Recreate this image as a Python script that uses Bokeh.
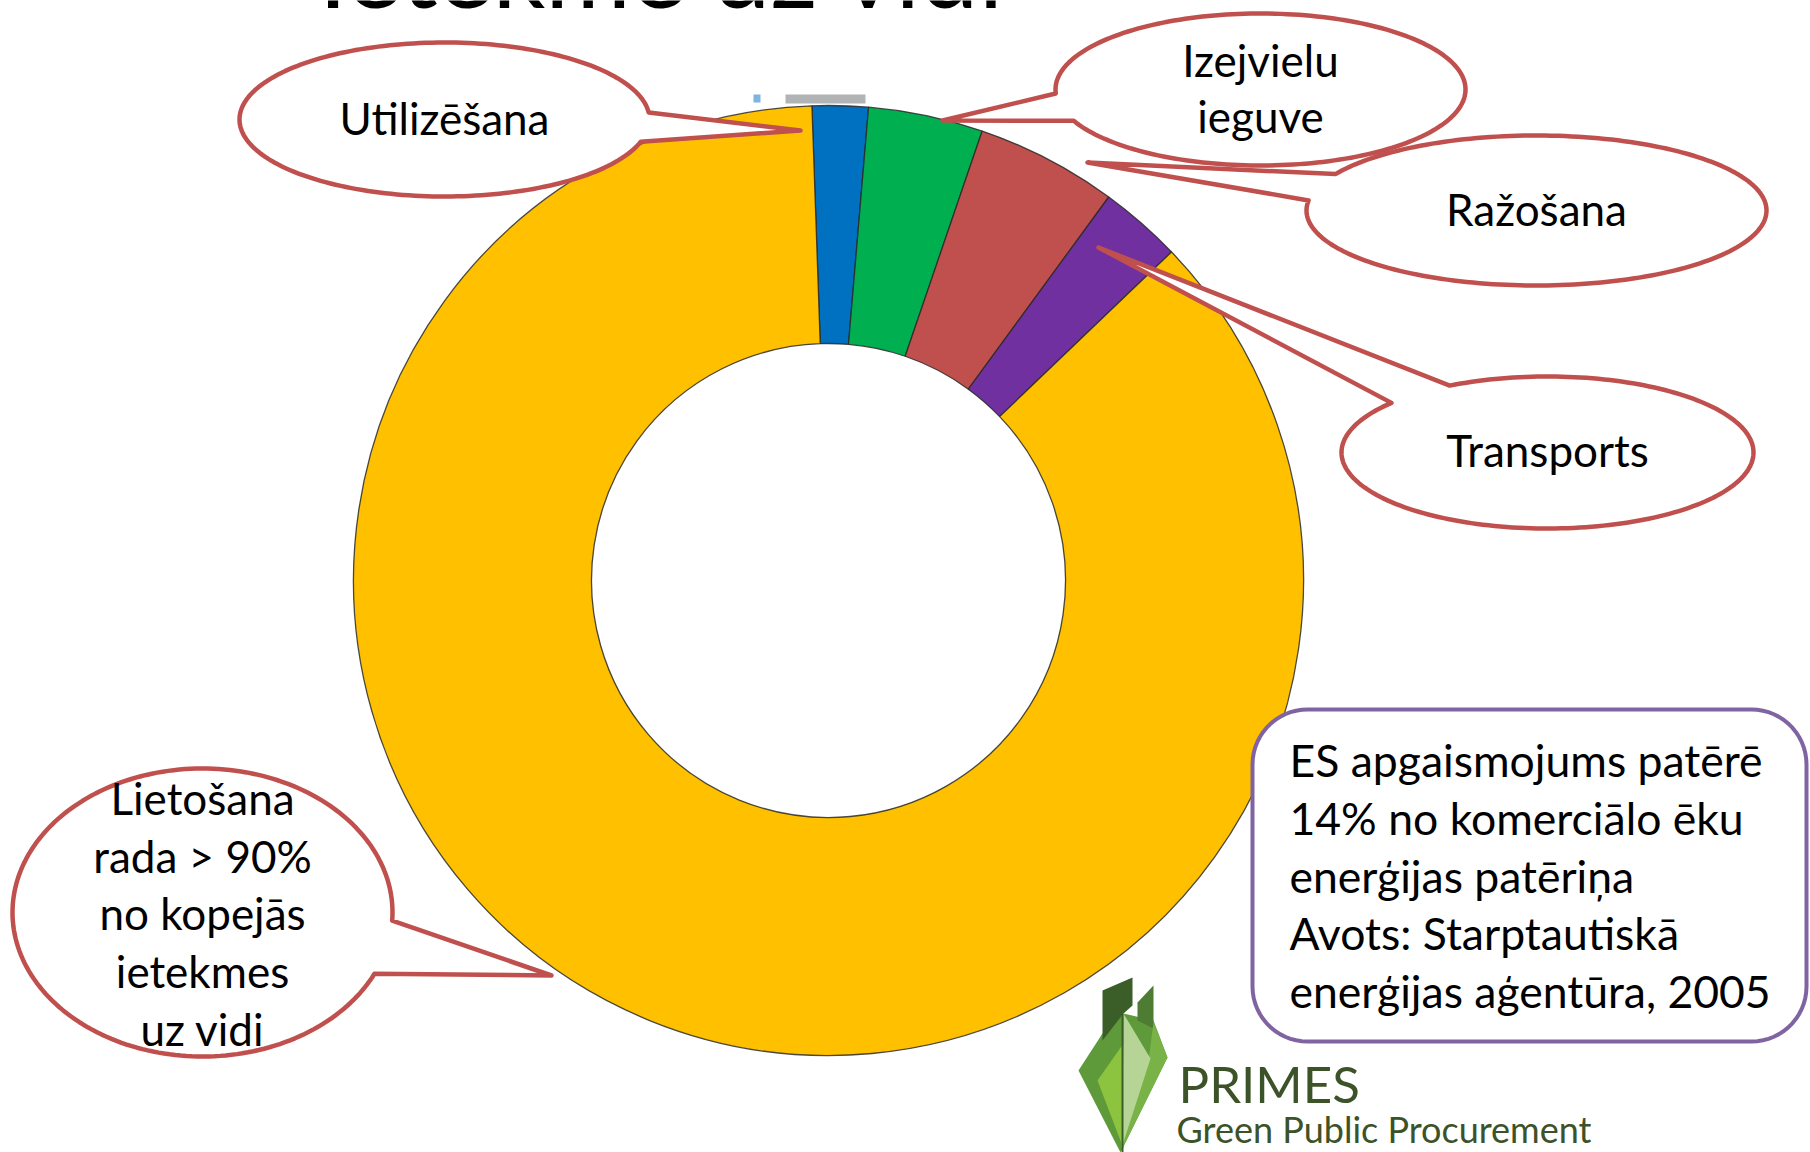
import numpy as np
from bokeh.plotting import figure
from bokeh.models import Range1d
from bokeh.embed import file_html
from bokeh.resources import INLINE
from bokeh.core.properties import value

# ---------------- data ----------------
categories = ["Utilizēšana", "Izejvielu ieguve", "Ražošana", "Transports", "Lietošana"]
shares = [1.9, 3.9, 4.8, 2.8, 86.6]
colors = ["#0070C0", "#00B050", "#C0504D", "#7030A0", "#FFC000"]

title_text = "Ietekme uz vidi"
lieto_lines = ["Lietošana", "rada > 90%", "no kopejās", "ietekmes", "uz vidi"]
izej_lines = ["Izejvielu", "ieguve"]
note_lines = ["ES apgaismojums patērē", "14% no komerciālo ēku",
              "enerģijas patēriņa", "Avots: Starptautiskā",
              "enerģijas aģentūra, 2005"]
logo_title = "PRIMES"
logo_sub = "Green Public Procurement"

# ---------------- canvas ----------------
PAGE_H = 1152
W, H = 1810, 1152


def Y(py):
    return PAGE_H - np.asarray(py, dtype=float)


p = figure(width=W, height=H, x_range=Range1d(0, W), y_range=Range1d(PAGE_H - H, PAGE_H),
           output_backend="svg", toolbar_location=None, min_border=0,
           x_axis_location=None, y_axis_location=None)
p.grid.visible = False
p.outline_line_color = None
p.background_fill_color = "white"

FONT = value("Lato")
RED = "#C0504D"
K = 0.40  # baseline correction factor (fraction of font size)

# ---------------- donut ----------------
cx_d, cy_d = 828, 580
offset = 2.0
cum = np.cumsum([0] + shares)
start = np.radians(90 + offset - cum[:-1] * 3.6)
end = np.radians(90 + offset - cum[1:] * 3.6)
p.annular_wedge(x=cx_d, y=float(Y(cy_d)), inner_radius=237, outer_radius=475,
                start_angle=list(start), end_angle=list(end), direction="clock",
                fill_color=colors, line_color="#2a2a2a", line_alpha=0.85, line_width=1.3)

# small scan artefacts above the top of the ring
p.quad(left=[785], right=[865], bottom=list(Y([103])), top=list(Y([94])),
       fill_color="#a3a6a8", fill_alpha=0.85, line_color=None)
p.quad(left=[753], right=[760], bottom=list(Y([102])), top=list(Y([94])),
       fill_color="#7fb3e0", line_color=None)


# ---------------- callouts ----------------
def callout(cx, cy, rx, ry, b1, b2, tip, n=200):
    t1 = np.arctan2((b1[1] - cy) / ry, (b1[0] - cx) / rx)
    t2 = np.arctan2((b2[1] - cy) / ry, (b2[0] - cx) / rx)
    d = (t2 - t1) % (2 * np.pi)
    if d < np.pi:
        ts = t1 - np.linspace(0, 2 * np.pi - d, n)
    else:
        ts = t1 + np.linspace(0, d, n)
    xs = list(cx + rx * np.cos(ts)) + [tip[0]]
    ys = list(cy + ry * np.sin(ts)) + [tip[1]]
    p.patch(xs, list(Y(ys)), fill_color="white", line_color=RED, line_width=4.5,
            line_join="round")


callout(444, 119, 205, 77, (646, 112), (638, 141), (800, 130))
callout(1260, 89, 205, 76, (1055, 93), (1075, 120), (942, 120))
callout(1536, 210, 230, 75, (1337, 174), (1310, 200), (1087, 162))
callout(1547, 452, 206, 76, (1452, 387), (1393, 403), (1098, 247))
callout(202, 912, 190, 144, (390, 920), (373, 973), (551, 975))


# ---------------- note box ----------------
def rounded_rect(x0, y0, x1, y1, r, n=16):
    xs, ys = [], []
    corners = [(x1 - r, y0 + r, -90, 0), (x1 - r, y1 - r, 0, 90),
               (x0 + r, y1 - r, 90, 180), (x0 + r, y0 + r, 180, 270)]
    for ccx, ccy, a0, a1 in corners:
        for a in np.radians(np.linspace(a0, a1, n)):
            xs.append(ccx + r * np.cos(a))
            ys.append(ccy + r * np.sin(a))
    return xs, ys


bx, by = rounded_rect(1252, 709, 1806, 1041, 55)
p.patch(bx, list(Y(by)), fill_color="white", line_color="#8064A2", line_width=4)


# ---------------- texts ----------------
def put_text(xs, baselines, texts, size, align="center", color="black"):
    ys = [b - K * size for b in baselines]
    p.text(x=xs, y=list(Y(ys)), text=texts, text_font=FONT, text_font_size=f"{size}px",
           text_align=align, text_baseline="alphabetic", text_color=color)


TS = 44
put_text([444], [135], ["Utilizēšana"], TS)
put_text([1260, 1260], [77, 133], izej_lines, TS)
put_text([1536], [226], ["Ražošana"], TS)
put_text([1547], [467], ["Transports"], TS)
lieto_base = [815 + 57.7 * i for i in range(len(lieto_lines))]
put_text([202] * len(lieto_lines), lieto_base, lieto_lines, TS)
note_base = [777 + 57.7 * i for i in range(len(note_lines))]
put_text([1289] * len(note_lines), note_base, note_lines, 44.5, align="left")

# title (mostly cut off at the top, as in the source slide)
put_text([318], [9], [title_text], 104, align="left")

# ---------------- logo ----------------
logo_polys = [
    ([(1078, 1070), (1102, 1033), (1123, 1013), (1153, 1020), (1167, 1057), (1120, 1152)], "#5e9a3a"),
    ([(1102, 990), (1132, 977), (1132, 1005), (1123, 1013), (1102, 1040)], "#3b5e29"),
    ([(1137, 1002), (1153, 985), (1153, 1028), (1137, 1020)], "#4e7c32"),
    ([(1153, 1022), (1167, 1057), (1120, 1152), (1148, 1060)], "#79b347"),
    ([(1097, 1080), (1123, 1043), (1123, 1148)], "#8cc43f"),
    ([(1123, 1013), (1150, 1058), (1121, 1148), (1123, 1043)], "#b5d495"),
]
for pts, col in logo_polys:
    p.patch([q[0] for q in pts], list(Y([q[1] for q in pts])), fill_color=col, line_color=None)
p.line([1122, 1122], list(Y([1013, 1152])), line_color="#3b5e29", line_width=2)

put_text([1178], [1103], [logo_title], 51, align="left", color="#3c5228")
put_text([1176], [1143], [logo_sub], 36, align="left", color="#3c5228")

open("out.html", "w").write(file_html(p, INLINE))
